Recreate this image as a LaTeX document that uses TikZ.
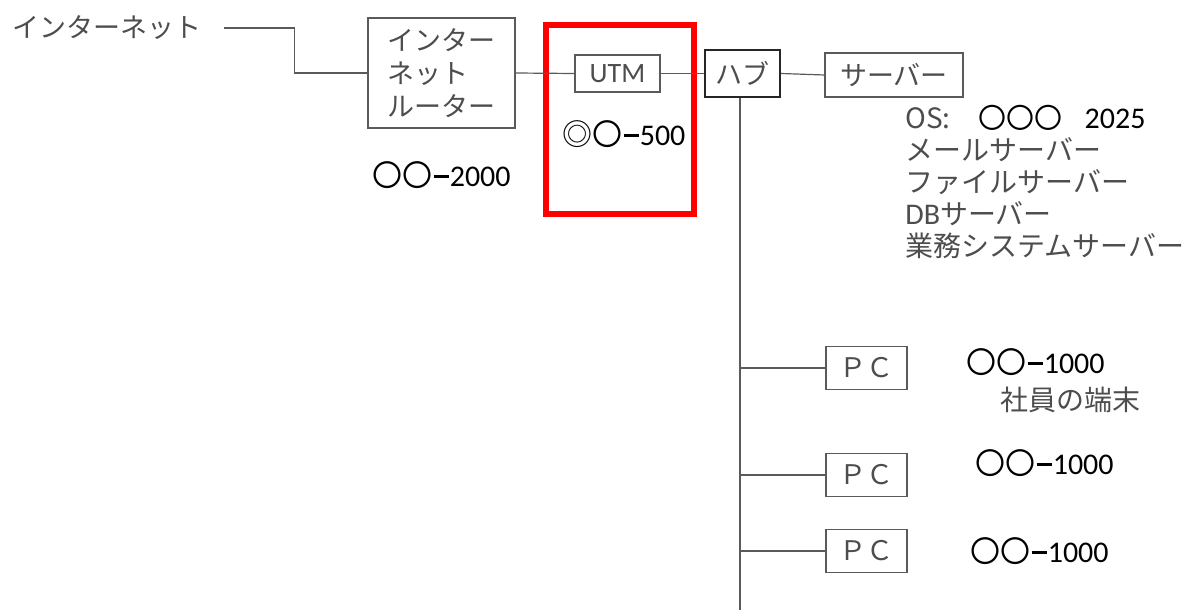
\documentclass[tikz,border=0pt]{standalone}
\usepackage{fontspec}
\setmainfont{Carlito}
\newfontfamily\jp{Noto Sans CJK JP}
\usetikzlibrary{positioning}
\definecolor{NetGray}{HTML}{4D4D4D}
\definecolor{NetLine}{HTML}{5A5A5A}
\definecolor{NetRed}{HTML}{FF0000}
\newcommand{\maru}[1]{{\jp #1}}
\newcommand{\modeldash}{\hspace{0.04em}\rule[0.27em]{0.5em}{0.11em}\hspace{0.04em}}

\begin{document}
\begin{tikzpicture}[
    x=0.5pt,y=-0.5pt,
    dev/.style={draw=NetLine,line width=0.6pt,inner sep=0pt,text=NetGray,font=\jp\fontsize{13.5}{16.5}\selectfont},
    hubbox/.style={dev,draw=black!85,line width=1.2pt},
    hilite/.style={draw=NetRed,line width=3pt,inner sep=0pt,minimum width=74pt,minimum height=94.5pt},
    lbl/.style={inner sep=0pt,anchor=west,text=NetGray,font=\jp\fontsize{14}{16}\selectfont},
    num/.style={inner sep=0pt,anchor=west,text=black,font=\fontsize{15}{17}\selectfont},
    wire/.style={draw=NetLine,line width=0.6pt}
  ]
    \useasboundingbox (0,0) rectangle (1195,610);
    % top row
    \node[lbl,font=\jp\fontsize{13.5}{16}\selectfont] (inet) at (12,28) {インターネット};
    \node[dev,minimum width=73.5pt,minimum height=55pt,align=left] (router) at (441.5,73) {インター\\ネット\\ルーター};
    \node[num] (routermodel) at (372,175) {\maru{〇〇}\modeldash 2000};
    \node[hilite] (utmzone) at (620,119.5) {};
    \node[dev,font=\fontsize{14}{16}\selectfont,minimum width=42.5pt,minimum height=18.5pt] (utm) at (617.5,73.5) {UTM};
    \node[num] (utmmodel) at (562,134) {\maru{◎〇}\modeldash 500};
    \node[hubbox,minimum width=37.5pt,minimum height=23.5pt] (hub) at (742.5,73.5) {ハブ};
    \node[dev,minimum width=69pt,minimum height=22pt] (server) at (894,75) {サーバー};
    % server roles
    \node[lbl] (osline) at (905,118) {{\fontsize{14}{16}\selectfont OS:}\hspace{14pt}{\color{black}\fontsize{14}{16}\selectfont 〇〇〇\hspace{11pt}{\rmfamily\fontsize{15}{16}\selectfont 2025}}};
    \node[lbl,align=left] (srvlist) at (905,198) {メールサーバー\\ファイルサーバー\\{\rmfamily\fontsize{15}{16}\selectfont DB}サーバー\\業務システムサーバー};
    % clients
    \coordinate (busend) at (740,610);
    \node[dev,minimum width=40.5pt,minimum height=21.5pt] (pc1) at (866.5,368) {ＰＣ};
    \node[dev,minimum width=40.5pt,minimum height=21.5pt] (pc2) at (866.5,475) {ＰＣ};
    \node[dev,minimum width=40.5pt,minimum height=21.5pt] (pc3) at (866.5,551) {ＰＣ};
    \node[num] (pc1model) at (966,362) {\maru{〇〇}\modeldash 1000};
    \node[lbl] (pc1note) at (1000,400) {社員の端末};
    \node[num] (pc2model) at (975,463) {\maru{〇〇}\modeldash 1000};
    \node[num] (pc3model) at (970,551) {\maru{〇〇}\modeldash 1000};
    % wires
    \draw[wire] ([xshift=11pt]inet.east) -- ++(71,0) |- (router.west);
    \draw[wire] (router.east) -- (utm.west);
    \draw[wire] (utm.east) -- (hub.west);
    \draw[wire] (hub.east) -- (server.west);
    \draw[wire] (hub.south -| busend) -- (busend);
    \draw[wire] (busend |- pc1) -- (pc1.west);
    \draw[wire] (busend |- pc2) -- (pc2.west);
    \draw[wire] (busend |- pc3) -- (pc3.west);
  \end{tikzpicture}
\end{document}
